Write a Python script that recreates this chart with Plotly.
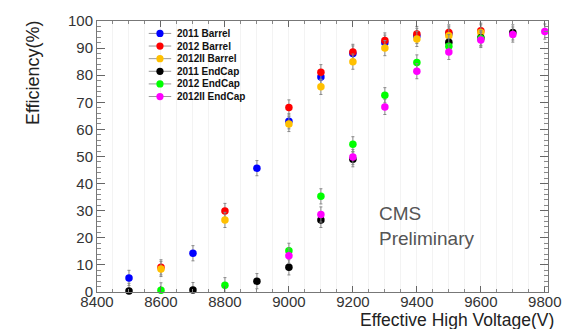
import plotly.graph_objects as go

series_names = ["2011 Barrel", "2012 Barrel", "2012II Barrel", "2011 EndCap", "2012 EndCap", "2012II EndCap"]
series_colors = ["#0000ff", "#ff0000", "#ffc000", "#000000", "#00ff00", "#ff00ff"]

hv_2011_barrel = [8500, 8700, 8900, 9000, 9100, 9200, 9300, 9400, 9500]
eff_2011_barrel = [5.2, 14.3, 45.7, 63.0, 79.3, 88.0, 92.0, 94.5, 95.3]

hv_2012_barrel = [8600, 8800, 9000, 9100, 9200, 9300, 9400, 9500, 9600]
eff_2012_barrel = [9.1, 29.9, 68.1, 81.1, 88.6, 92.8, 95.2, 95.8, 96.4]

hv_2012II_barrel = [8600, 8800, 9000, 9100, 9200, 9300, 9400, 9500, 9600]
eff_2012II_barrel = [8.5, 26.6, 62.0, 75.7, 85.0, 90.0, 93.4, 94.6, 95.8]

hv_2011_endcap = [8500, 8700, 8900, 9000, 9100, 9200, 9500, 9600, 9700]
eff_2011_endcap = [0.4, 0.7, 4.0, 9.1, 26.6, 49.0, 92.2, 93.8, 95.8]

hv_2012_endcap = [8600, 8800, 9000, 9100, 9200, 9300, 9400, 9500, 9600]
eff_2012_endcap = [0.6, 2.5, 15.2, 35.3, 54.5, 72.6, 84.7, 90.7, 93.5]

hv_2012II_endcap = [9000, 9100, 9200, 9300, 9400, 9500, 9600, 9700, 9800]
eff_2012II_endcap = [13.4, 28.6, 49.8, 68.3, 81.5, 88.6, 93.0, 95.0, 96.1]

x_ticks = [8400, 8600, 8800, 9000, 9200, 9400, 9600, 9800]
x_tick_labels = ["8400", "8600", "8800", "9000", "9200", "9400", "9600", "9800"]
y_ticks = list(range(0, 101, 10))

err = 2.8

xs = [hv_2011_barrel, hv_2012_barrel, hv_2012II_barrel, hv_2011_endcap, hv_2012_endcap, hv_2012II_endcap]
ys = [eff_2011_barrel, eff_2012_barrel, eff_2012II_barrel, eff_2011_endcap, eff_2012_endcap, eff_2012II_endcap]

# plot-area geometry (pixels) for placing the legend
W, H = 573, 329
ML, MR, MT, MB = 97, 14, 15, 37
PW, PH = W - ML - MR, H - MT - MB


def px(x):
    return (x - ML) / PW


def py(y):
    return (H - MB - y) / PH


fig = go.Figure()
for name, color, x, y in zip(series_names, series_colors, xs, ys):
    fig.add_trace(go.Scatter(
        x=x, y=y, name=name, mode="markers",
        marker=dict(color=color, size=7.5),
        error_y=dict(type="constant", value=err, color="#888888", thickness=1, width=1.5),
        cliponaxis=False, showlegend=False,
    ))

# manual legend (line through marker + bold label)
leg_y0, leg_dy = 27.7, 12.9
for i, (name, color) in enumerate(zip(series_names, series_colors)):
    yy = py(leg_y0 + i * leg_dy)
    fig.add_shape(type="line", xref="paper", yref="paper",
                  x0=px(150), x1=px(173), y0=yy, y1=yy,
                  line=dict(color="#999999", width=1))
    r = 3.7
    fig.add_shape(type="circle", xref="paper", yref="paper",
                  x0=px(161.5 - r), x1=px(161.5 + r),
                  y0=py(leg_y0 + i * leg_dy + r), y1=py(leg_y0 + i * leg_dy - r),
                  fillcolor=color, line=dict(width=0))
    fig.add_annotation(text="<b>%s</b>" % name, xref="paper", yref="paper",
                       x=px(178), y=yy, xanchor="left", yanchor="middle",
                       showarrow=False, borderpad=0,
                       font=dict(family="Liberation Sans, Arial", size=10, color="#111111"))

fig.update_layout(
    width=W, height=H,
    margin=dict(l=ML, r=MR, t=MT, b=MB),
    paper_bgcolor="white", plot_bgcolor="white",
    showlegend=False,
    font=dict(family="Liberation Sans, Arial", color="#333333"),
)

fig.update_xaxes(
    range=[8400, 9810], tickvals=x_ticks, ticktext=x_tick_labels,
    ticks="inside", ticklen=6, tickcolor="#666666",
    ticklabelstandoff=-4,
    minor=dict(dtick=50, tick0=8400, ticks="inside", ticklen=3, tickcolor="#888888", showgrid=True, gridcolor="#f3f3f3"),
    showline=True, linecolor="#777777", linewidth=1, mirror="ticks",
    showgrid=False, zeroline=False,
    tickfont=dict(size=15, color="#333333"),
)
fig.update_yaxes(
    range=[0, 100], tickvals=y_ticks,
    ticks="inside", ticklen=8, tickcolor="#666666",
    minor=dict(dtick=2, ticks="inside", ticklen=4, tickcolor="#888888"),
    showline=True, linecolor="#777777", linewidth=1, mirror="ticks",
    showgrid=False, zeroline=False,
    tickfont=dict(size=15, color="#333333"),
)

fig.add_annotation(text="Effective High Voltage(V)", xref="paper", yref="paper",
                   x=px(566), y=py(309), xanchor="right", yanchor="top", showarrow=False,
                   borderpad=0, font=dict(size=17.5, color="#222222"))
fig.add_annotation(text="Efficiency(%)", xref="paper", yref="paper",
                   x=px(31), y=py(13), xanchor="center", yanchor="top", textangle=-90, showarrow=False,
                   borderpad=0, font=dict(size=18, color="#222222"))
fig.add_annotation(text="CMS<br>Preliminary", xref="paper", yref="paper",
                   x=px(385), y=py(225), xanchor="left", yanchor="middle", align="left", showarrow=False,
                   borderpad=0, font=dict(size=19, color="#555555"))

fig.write_html("out.html",
               config={"displayModeBar": False},
               post_script="document.body.style.margin='0';document.body.style.overflow='hidden';")
